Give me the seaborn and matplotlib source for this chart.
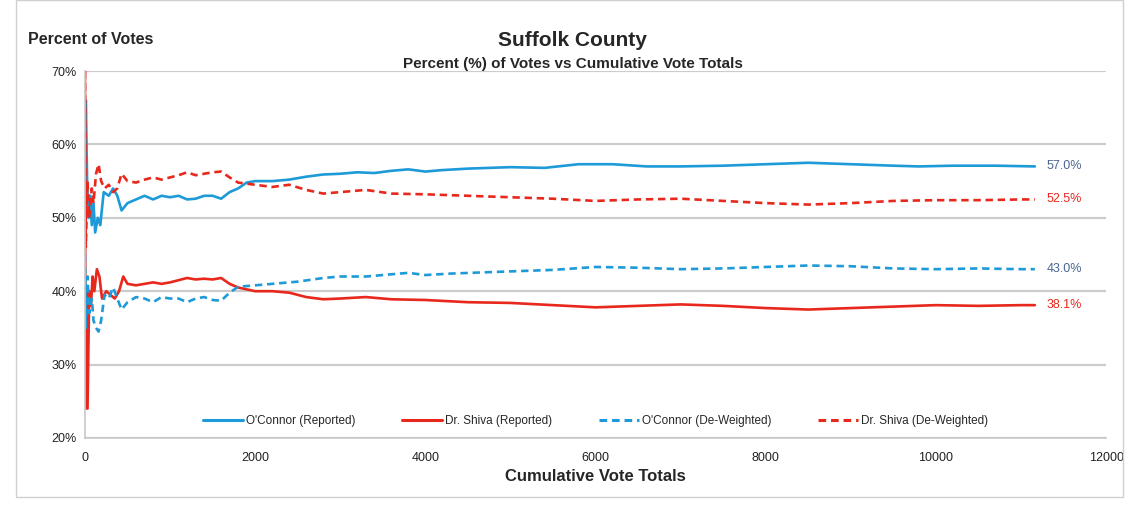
import numpy as np
import pandas as pd
import seaborn as sns
import matplotlib.pyplot as plt
from matplotlib.lines import Line2D
from matplotlib.patches import Rectangle

# cumulative vote totals and percent of votes
oc_rep_x = [0, 10, 25, 40, 60, 80, 100, 120, 150, 180, 220, 280, 330, 380, 430, 500, 600, 700, 800, 900,
            1000, 1100, 1200, 1300, 1400, 1500, 1600, 1700, 1800, 1900, 2000, 2200, 2400, 2600, 2800, 3000,
            3200, 3400, 3600, 3800, 4000, 4200, 4500, 5000, 5400, 5800, 6200, 6600, 7000, 7500, 8000, 8500,
            9000, 9500, 9800, 10200, 10700, 11163]
oc_rep_y = [50, 66, 55, 50, 53, 49, 52, 48, 50, 49, 53.5, 53, 54, 53, 51, 52, 52.5, 53, 52.5, 53,
            52.8, 53, 52.5, 52.6, 53, 53, 52.6, 53.5, 54, 54.8, 55, 55, 55.2, 55.6, 55.9, 56,
            56.2, 56.1, 56.4, 56.6, 56.3, 56.5, 56.7, 56.9, 56.8, 57.3, 57.3, 57.0, 57.0, 57.1, 57.3, 57.5,
            57.3, 57.1, 57.0, 57.1, 57.1, 57.0]

sh_rep_x = [0, 5, 15, 30, 50, 70, 90, 110, 140, 170, 200, 250, 300, 350, 400, 450, 500, 600, 700, 800,
            900, 1000, 1100, 1200, 1300, 1400, 1500, 1600, 1700, 1800, 2000, 2200, 2400, 2600, 2800, 3000,
            3300, 3600, 4000, 4500, 5000, 5500, 6000, 6500, 7000, 7500, 8000, 8500, 9000, 9500, 10000,
            10500, 11000, 11163]
sh_rep_y = [70, 24, 40, 24, 40, 38, 42, 40, 43, 42, 39, 40, 39.5, 39, 40, 42, 41, 40.8, 41, 41.2,
            41, 41.2, 41.5, 41.8, 41.6, 41.7, 41.6, 41.8, 41, 40.5, 40, 40, 39.8, 39.2, 38.9, 39,
            39.2, 38.9, 38.8, 38.5, 38.4, 38.1, 37.8, 38.0, 38.2, 38.0, 37.7, 37.5, 37.7, 37.9, 38.1,
            38.0, 38.1, 38.1]

oc_dw_x = [0, 10, 30, 50, 80, 100, 130, 160, 190, 230, 280, 330, 380, 430, 500, 600, 700, 800, 900,
           1000, 1100, 1200, 1300, 1400, 1500, 1600, 1700, 1800, 2000, 2200, 2500, 2800, 3000, 3300,
           3600, 3800, 4000, 4300, 5000, 5500, 6000, 6500, 7000, 7500, 8000, 8500, 9000, 9500, 10000,
           10500, 11000, 11163]
oc_dw_y = [45, 35, 42, 37, 39, 36, 35, 34.5, 36, 39.5, 39, 40.5, 39, 37.5, 38.5, 39.2, 39, 38.5, 39.2,
           39, 39, 38.5, 39, 39.2, 38.8, 38.7, 39.8, 40.6, 40.8, 41, 41.3, 41.8, 42, 42,
           42.3, 42.5, 42.2, 42.4, 42.7, 42.9, 43.3, 43.2, 43.0, 43.1, 43.3, 43.5, 43.4, 43.1, 43.0,
           43.1, 43.0, 43.0]

sh_dw_x = [0, 10, 30, 50, 80, 100, 130, 160, 190, 230, 280, 330, 380, 430, 500, 600, 700, 800, 900,
           1000, 1100, 1200, 1300, 1400, 1500, 1600, 1700, 1800, 2000, 2200, 2400, 2600, 2800, 3000,
           3300, 3600, 4000, 4500, 5000, 5500, 6000, 6500, 7000, 7500, 8000, 8500, 9000, 9500, 10000,
           10500, 11000, 11163]
sh_dw_y = [70, 46, 55, 50, 54, 52, 56, 57.3, 55, 54, 54.5, 53.5, 54, 56, 55, 54.8, 55.2, 55.5, 55.2,
           55.5, 55.8, 56.2, 55.8, 56, 56.2, 56.3, 55.5, 54.8, 54.5, 54.2, 54.5, 53.8, 53.3, 53.5,
           53.8, 53.3, 53.2, 53, 52.8, 52.6, 52.3, 52.5, 52.6, 52.3, 52.0, 51.8, 52.0, 52.3, 52.4,
           52.4, 52.5, 52.5]

labels = ["O'Connor (Reported)", "Dr. Shiva (Reported)", "O'Connor (De-Weighted)", "Dr. Shiva (De-Weighted)"]
end_labels = ["57.0%", "38.1%", "43.0%", "52.5%"]

blue = '#1E9AD8'
red = '#E8281C'
slate = '#4A6591'

sns.set_style('white')
plt.rcParams['font.family'] = ['Liberation Sans', 'DejaVu Sans']

fig = plt.figure(figsize=(11.39, 5.05), dpi=100)
ax = fig.add_axes([0.0746, 0.1327, 0.8965, 0.7267])

series = [(oc_rep_x, oc_rep_y, blue, '-'), (sh_rep_x, sh_rep_y, red, '-'),
          (oc_dw_x, oc_dw_y, blue, '--'), (sh_dw_x, sh_dw_y, red, '--')]
for (xs, ys, c, ls), lab, end in zip(series, labels, end_labels):
    df = pd.DataFrame({'votes': xs, 'pct': ys})
    sns.lineplot(data=df, x='votes', y='pct', color=c, linestyle=ls, linewidth=1.9,
                 ax=ax, legend=False)
    if ls == '--':
        ax.lines[-1].set_dashes((2.8, 1.8))
    ax.text(xs[-1] + 140, ys[-1], end, color=(slate if c == blue else red),
            fontsize=9, va='center', ha='left')

ax.set_xlim(0, 12000)
ax.set_ylim(20, 70)
ax.set_xticks(range(0, 12001, 2000))
ax.set_yticks(range(20, 71, 10))
ax.set_yticklabels([f'{v}%' for v in range(20, 71, 10)])
ax.tick_params(axis='x', direction='out', length=4, color='#b0b0b0', labelsize=9, pad=6, labelcolor='#222222')
ax.tick_params(axis='y', length=0, labelsize=9, pad=6, labelcolor='#222222')
ax.yaxis.grid(True, color='#cccccc', linewidth=1.6)
ax.set_axisbelow(True)
for s in ['top', 'right']:
    ax.spines[s].set_visible(False)
for s in ['left', 'bottom']:
    ax.spines[s].set_color('#c8c8c8')
    ax.spines[s].set_linewidth(1.2)
ax.set_xlabel('Cumulative Vote Totals', fontsize=12, fontweight='bold', labelpad=4)
ax.set_ylabel('')

handles = [Line2D([], [], color=blue, lw=2.2), Line2D([], [], color=red, lw=2.2),
           Line2D([], [], color=blue, lw=2.2, dashes=(2.5, 1.6)), Line2D([], [], color=red, lw=2.2, dashes=(2.5, 1.6))]
ax.legend(handles, labels, loc='lower center', bbox_to_anchor=(0.5, 0.0), ncol=4, frameon=False,
          fontsize=8.5, handlelength=3.4, handletextpad=0.2, columnspacing=4.0)

fig.text(0.503, 0.92, 'Suffolk County', ha='center', va='center', fontsize=15, fontweight='bold')
fig.text(0.503, 0.874, 'Percent (%) of Votes vs Cumulative Vote Totals', ha='center', va='center',
         fontsize=11, fontweight='bold')
fig.text(0.025, 0.922, 'Percent of Votes', ha='left', va='center', fontsize=11.5, fontweight='bold')

fig.patches.append(Rectangle((0.014, 0.015), 0.972, 0.985, transform=fig.transFigure,
                             fill=False, edgecolor='#d0d0d0', linewidth=1))

fig.savefig('out.png', dpi=100)
